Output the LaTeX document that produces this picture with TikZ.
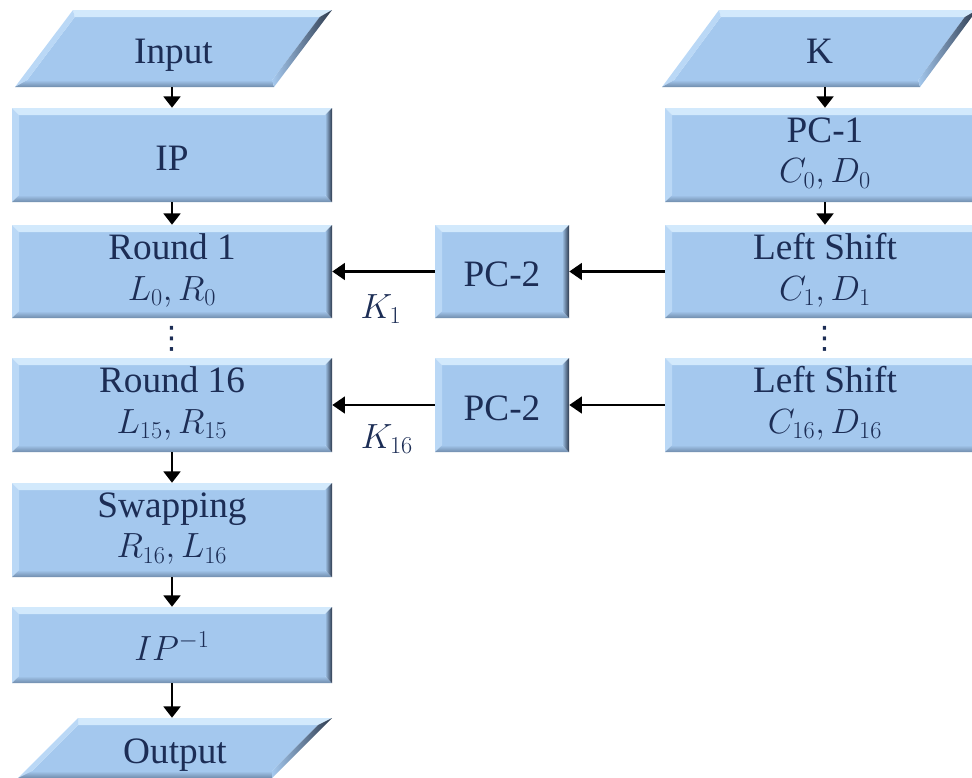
\documentclass[tikz,border=0pt]{standalone}
\usepackage{fontspec}
\setmainfont{Liberation Serif}
\newfontfamily\dvsans{DejaVu Sans}
\usetikzlibrary{arrows.meta,calc}
\definecolor{bfill}{RGB}{164,200,238}
\definecolor{btop}{RGB}{210,233,252}
\definecolor{bleft}{RGB}{186,216,246}
\definecolor{bbot}{RGB}{112,140,172}
\definecolor{bright}{RGB}{45,58,78}
\definecolor{txtc}{RGB}{28,45,85}
\tikzset{
  shapebox/.style={inner sep=0pt, draw=none},
  boxtxt/.style={inner sep=0pt, align=center, text=txtc, font=\fontsize{26.5}{29}\selectfont},
  lbl/.style={inner sep=0pt, text=txtc, font=\fontsize{25}{28}\selectfont},
  dotlbl/.style={inner sep=0pt, text=txtc, font=\dvsans\fontsize{22}{24}\selectfont},
  onel/.style={text depth=0pt, yshift=-2.2pt},
  conn/.style={line width=1.5pt, -{Triangle[width=12pt,length=8pt]}},
  hconn/.style={line width=1.5pt, -{Triangle[width=12pt,length=9pt]}},
}
\newcommand\bw{7}
% [text options] name x1 y1 x2 y2 text
\newcommand\bevrect[7][]{%
  \fill[bfill] ({#3+\bw},{#4+\bw}) rectangle ({#5-\bw},{#6-\bw});
  \fill[btop] (#3,#4) -- (#5,#4) -- ({#5-\bw},{#4+\bw}) -- ({#3+\bw},{#4+\bw}) -- cycle;
  \fill[bleft] (#3,#4) -- ({#3+\bw},{#4+\bw}) -- ({#3+\bw},{#6-\bw}) -- (#3,#6) -- cycle;
  \shade[top color=bfill, bottom color=bbot] (#3,#6) -- ({#3+\bw},{#6-\bw}) -- ({#5-\bw},{#6-\bw}) -- (#5,#6) -- cycle;
  \shade[left color=bfill, right color=bright] (#5,#4) -- (#5,#6) -- ({#5-\bw},{#6-\bw}) -- ({#5-\bw},{#4+\bw}) -- cycle;
  \node[shapebox, minimum width={(#5-#3)*0.025cm}, minimum height={(#6-#4)*0.025cm}]
    (#2) at ({(#3+#5)/2},{(#4+#6)/2}) {};
  \node[boxtxt, #1] (#2-t) at (#2.center) {#7};
}
% name xTL y1 xTR y2 slant text
\newcommand\bevpar[7]{%
  \pgfmathsetmacro\kk{(#6)/((#5)-(#3))*\bw}
  \coordinate (#1-o1) at (#2,#3);
  \coordinate (#1-o2) at (#4,#3);
  \coordinate (#1-o3) at ({#4-#6},#5);
  \coordinate (#1-o4) at ({#2-#6},#5);
  \coordinate (#1-i1) at ({#2-\kk+\bw},{#3+\bw});
  \coordinate (#1-i2) at ({#4-\kk-\bw},{#3+\bw});
  \coordinate (#1-i3) at ({#4-#6+\kk-\bw},{#5-\bw});
  \coordinate (#1-i4) at ({#2-#6+\kk+\bw},{#5-\bw});
  \fill[bfill] (#1-i1) -- (#1-i2) -- (#1-i3) -- (#1-i4) -- cycle;
  \fill[btop] (#1-o1) -- (#1-o2) -- (#1-i2) -- (#1-i1) -- cycle;
  \fill[bleft] (#1-o1) -- (#1-i1) -- (#1-i4) -- (#1-o4) -- cycle;
  \shade[top color=bfill, bottom color=bbot] (#1-o4) -- (#1-i4) -- (#1-i3) -- (#1-o3) -- cycle;
  \shade[left color=bfill, right color=bright] (#1-o2) -- (#1-o3) -- (#1-i3) -- (#1-i2) -- cycle;
  \node[shapebox, minimum width={(#4-#2+#6)*0.025cm}, minimum height={(#5-#3)*0.025cm}]
    (#1) at ({(#2-#6+#4)/2},{(#3+#5)/2}) {};
  \node[boxtxt, onel] (#1-t) at (#1.center) {#7};
}
\begin{document}
\begin{tikzpicture}[x=0.025cm, y=-0.025cm]
\useasboundingbox (0,0) rectangle (972,777);
% left column
\bevpar{inp}{73}{10}{332}{87}{58}{Input}
\bevrect[onel]{ip}{12}{108}{332}{202}{IP}
\bevrect[yshift=1pt]{rone}{12}{225}{332}{318}{Round 1\\$L_0, R_0$}
\bevrect[yshift=1pt]{rsix}{12}{358}{332}{452}{Round 16\\$L_{15}, R_{15}$}
\bevrect[yshift=1pt]{swp}{12}{483}{332}{577}{Swapping\\$R_{16}, L_{16}$}
\bevrect[yshift=-1pt]{ipinv}{12}{607}{332}{683}{$IP^{-1}$}
\bevpar{outp}{78}{718}{332}{778}{60}{Output}
% right column
\bevpar{kin}{719}{10}{977}{87}{57}{K}
\bevrect[yshift=1pt]{pcone}{665}{108}{985}{202}{PC-1\\$C_0, D_0$}
\bevrect[yshift=1pt]{lsone}{665}{225}{985}{318}{Left Shift\\$C_1, D_1$}
\bevrect[yshift=1pt]{lssix}{665}{358}{985}{452}{Left Shift\\$C_{16}, D_{16}$}
% middle
\bevrect[onel]{pctwoa}{435}{225}{569}{318}{PC-2}
\bevrect[onel]{pctwob}{435}{358}{569}{452}{PC-2}
% dots
\node[dotlbl] (dotl) at (172,339) {⋮};
\node[dotlbl] (dotr) at (825,339) {⋮};
% labels
\node[lbl] (kone) at (381,309) {$K_1$};
\node[lbl] (ksix) at (387,439) {$K_{16}$};
% vertical arrows
\draw[conn] (ip.north |- inp.south) -- (ip.north);
\draw[conn] (ip.south) -- (rone.north);
\draw[conn] (rsix.south) -- (swp.north);
\draw[conn] (swp.south) -- (ipinv.north);
\draw[conn] (ipinv.south) -- (ipinv.south |- outp.north);
\draw[conn] (pcone.north |- kin.south) -- (pcone.north);
\draw[conn] (pcone.south) -- (lsone.north);
% horizontal arrows
\draw[hconn] (lsone.west) -- (pctwoa.east);
\draw[hconn] (pctwoa.west) -- (rone.east);
\draw[hconn] (lssix.west) -- (pctwob.east);
\draw[hconn] (pctwob.west) -- (rsix.east);
\end{tikzpicture}
\end{document}
